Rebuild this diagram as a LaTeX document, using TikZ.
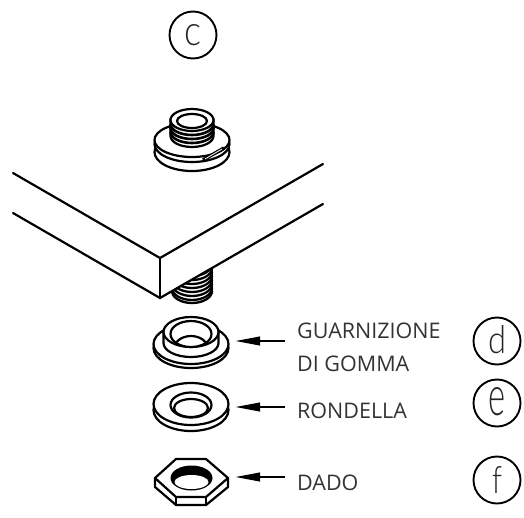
\documentclass[tikz,border=0pt]{standalone}
\usepackage{graphicx}
\usepackage{fontspec}
\setmainfont{Open Sans}
\newfontfamily\letterfont{Lato Light}
\usetikzlibrary{arrows.meta}
\newcommand{\calloutletter}[4]{\raisebox{#1}{\resizebox{#2}{#3}{\letterfont #4}}}
\tikzset{
  part/.style={draw=black, line width=2.2pt, fill=white},
  edge/.style={draw=black, line width=2.2pt, line cap=round},
  pointer/.style={draw=black, line width=2.4pt, -{Stealth[length=25pt,width=8.5pt,inset=0pt]}},
  partlabel/.style={anchor=base west, inner xsep=12pt, inner ysep=0pt, font=\fontsize{21.5}{33}\selectfont, text=black!80, align=left},
  callout/.style={circle, draw=black, line width=1.9pt, minimum size=47pt, inner sep=0pt, text=black!85}
}
\begin{document}
\begin{tikzpicture}[x=1pt,y=-1pt]
  \useasboundingbox (0,0) rectangle (524,517);

  % upper bolt
  \fill[part] (192,152) ellipse (37.5 and 19);
  \fill[part] (192,144) ellipse (37.5 and 18);
  \fill[part] (192,140) ellipse (37.5 and 17);
  \fill[part] (170.5,120) -- (170.5,136) arc (180:0:21.5 and 11) -- (213.5,120) -- cycle;
  \foreach \y in {124,128,132} {
    \draw[line width=2.6pt] (170.5,\y) arc (180:0:21.5 and 11);
  }
  \fill[part] (192,120) ellipse (21.5 and 11);
  \draw[line width=2.2pt] (192,121) ellipse (15 and 7);
  \draw[line width=3.4pt] (203,160) -- (224,148);
  \draw[white, line width=0.8pt] (205,159) -- (222,149);

  % slab
  \draw[edge] (13,173) -- (160,258) -- (323,164);
  \draw[edge] (13,213) -- (160,298) -- (323,204);
  \draw[edge] (160,258) -- (160,298);

  % thread below the slab
  \begin{scope}
    \clip (160,298) -- (323,204) -- (323,310) -- (160,310) -- cycle;
    \foreach \y in {264,268,272,276,280,284,288,291} {
      \draw[line width=2.3pt] (172,\y) arc (180:0:20 and 12);
    }
    \draw[line width=2.2pt] (172,260) -- (172,291) (212,260) -- (212,291);
  \end{scope}

  % gasket
  \fill[part] (191,348) ellipse (37.5 and 20);
  \fill[part] (191,344) ellipse (37.5 and 20);
  \fill[part] (163.5,332) -- (163.5,343) arc (180:0:27.5 and 14) -- (218.5,332) -- cycle;
  \fill[part] (191,332) ellipse (27.5 and 15);
  \fill[part] (191,334) ellipse (20.5 and 13);
  \begin{scope}
    \clip (191,334) ellipse (20.5 and 13);
    \draw[line width=2.2pt] (191,349) ellipse (17 and 13);
  \end{scope}

  % washer
  \fill[part] (191,410) ellipse (37.5 and 21);
  \fill[part] (191,404) ellipse (37.5 and 21);
  \fill[part] (191,405) ellipse (20.5 and 12.5);
  \draw[line width=2.2pt] (191,408) ellipse (17 and 9);

  % nut
  \fill[part, line join=round] (155,478) -- (155,487) -- (176,505) -- (206,505) -- (228,487) -- (228,478) -- (206,459) -- (176,459) -- cycle;
  \draw[edge] (155,478) -- (176,497) -- (206,497) -- (228,478);
  \draw[edge] (176,497) -- (176,505) (206,497) -- (206,505);
  \fill[black] (191.5,478) ellipse (21 and 12.5);
  \fill[white] (191.5,482) ellipse (17 and 7);

  % tips of the arrows
  \coordinate (gaskettip) at (235,341);
  \coordinate (washertip) at (235,407);
  \coordinate (nuttip) at (235,477);

  % labels
  \node[partlabel] (gasketlabel) at (285,371) {GUARNIZIONE\\DI GOMMA};
  \node[partlabel] (washerlabel) at (285,418) {RONDELLA};
  \node[partlabel] (nutlabel) at (285,490) {DADO};

  \node[callout] (calloutc) at (193,35) {\calloutletter{0pt}{17pt}{21pt}{c}};
  \node[callout] (calloutd) at (497,341) {\calloutletter{4pt}{18pt}{28pt}{d}};
  \node[callout] (calloute) at (497,403) {\calloutletter{4pt}{17pt}{28pt}{e}};
  \node[callout] (calloutf) at (497,480) {\calloutletter{0pt}{10pt}{27pt}{f}};

  % arrows
  \draw[pointer] (gasketlabel.west |- gaskettip) -- (gaskettip);
  \draw[pointer] (washerlabel.west |- washertip) -- (washertip);
  \draw[pointer] (nutlabel.west |- nuttip) -- (nuttip);
\end{tikzpicture}
\end{document}
